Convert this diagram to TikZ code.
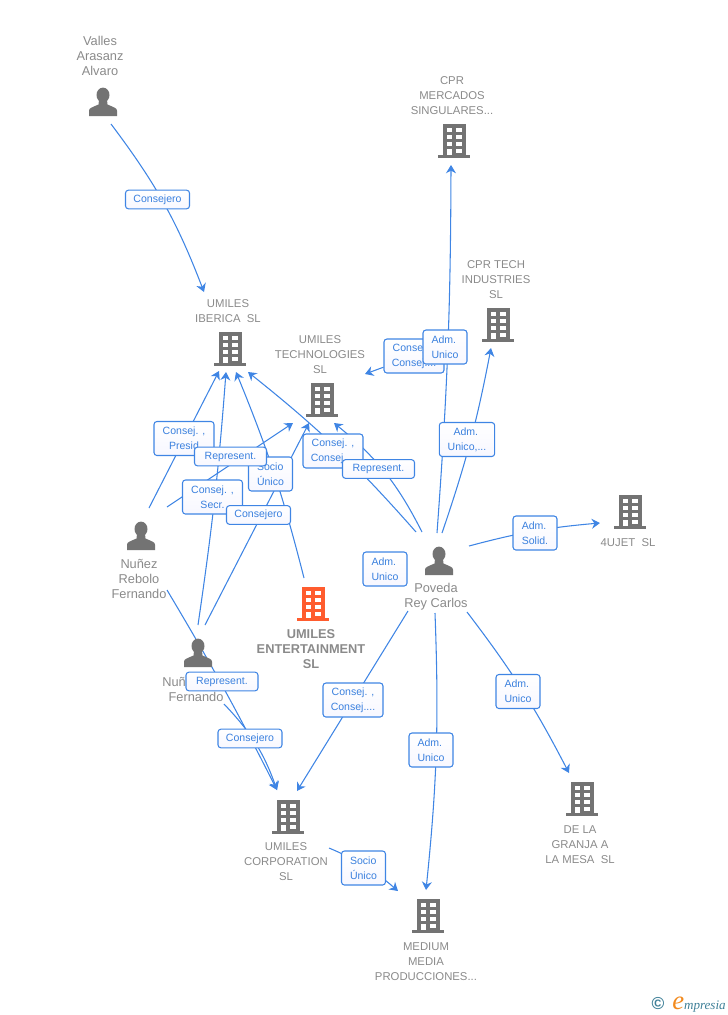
\documentclass[tikz,border=0pt]{standalone}
\usepackage{fontspec}
\setmainfont{Liberation Sans}
\newfontfamily\logofont{Liberation Serif}
\usetikzlibrary{arrows.meta,backgrounds}
\definecolor{icongray}{HTML}{737373}
\definecolor{textgray}{HTML}{8A8A8A}
\definecolor{linkblue}{HTML}{3F85E4}
\definecolor{tagblue}{HTML}{3A80DE}
\definecolor{iconorange}{HTML}{FF5C2E}
\definecolor{logoteal}{HTML}{3F8098}
\definecolor{logoorange}{HTML}{F28A1E}
\tikzset{
  link/.style={draw=linkblue,line width=.8pt,-{Stealth[length=6.2pt,width=7.5pt,inset=2pt]}},
  spot/.style={circle,inner sep=0pt,minimum size=21pt},
  lbl/.style={text=textgray,align=center,font=\fontsize{8.5}{11.25}\selectfont,inner sep=0pt,yshift=-.75pt},
  lblperson/.style={lbl,font=\fontsize{9.6}{11.25}\selectfont},
  tag/.style={draw=linkblue,line width=.8pt,rounded corners=2.2pt,top color=white,bottom color=blue!3,
    text=tagblue,align=center,font=\fontsize{7.9}{11.25}\selectfont,inner sep=0pt},
  tagline/.style={tag,minimum width=48pt,minimum height=14pt},
  tagrep/.style={tag,minimum width=54pt,minimum height=14pt},
  tagsmall/.style={tag,align=left,minimum width=33pt,minimum height=25.5pt},
  tagmid/.style={tag,minimum width=45pt,minimum height=25.5pt},
  buildingicon/.pic={
    \fill[pic actions] (-11.5,-16.7) rectangle (11.5,14);
    \fill[pic actions] (-16,14) rectangle (16,17);
    \fill[white] (-7.5,-12.7) rectangle (-2.4,-9);
    \fill[white] (2.3,-12.7) rectangle (7.6,-9);
    \fill[white] (-7.5,-5.8) rectangle (-2.4,-1.8);
    \fill[white] (2.3,-5.8) rectangle (7.6,-1.8);
    \fill[white] (-7.5,1) rectangle (-2.4,5);
    \fill[white] (2.3,1) rectangle (7.6,5);
    \fill[white] (-6.7,7.7) rectangle (-2.4,14);
    \fill[white] (2.3,7.7) rectangle (7.6,11.5);
  },
  personicon/.pic={
    \fill[pic actions] (0,-7) ellipse (6.5 and 7.4);
    \fill[pic actions] (-14,14) -- (-14,8.5) .. controls (-14,6) and (-10,5) .. (-4.5,2.5) -- (-4,-2) -- (4,-2) -- (4.5,2.5)
      .. controls (10,5) and (14,6) .. (14,8.5) -- (14,14) -- cycle;
  }
}
\begin{document}
\begin{tikzpicture}[x=.75pt,y=-.75pt]
    \useasboundingbox (0,0) rectangle (728,1015);
    % people
    \node[spot] (valles) at (103,102) {}; \pic[fill=icongray] at (valles) {personicon};
    \node[spot] (rebolo) at (141,536) {}; \pic[fill=icongray] at (rebolo) {personicon};
    \node[spot] (fernando) at (198,653) {}; \pic[fill=icongray] at (fernando) {personicon};
    \node[spot] (poveda) at (439,561) {}; \pic[fill=icongray] at (poveda) {personicon};
    % companies
    \node[spot] (mercados) at (454,141) {}; \pic[fill=icongray] at (mercados) {buildingicon};
    \node[spot] (cprtech) at (498,325) {}; \pic[fill=icongray] at (cprtech) {buildingicon};
    \node[spot] (iberica) at (230,349) {}; \pic[fill=icongray] at (iberica) {buildingicon};
    \node[spot] (technologies) at (322,400) {}; \pic[fill=icongray] at (technologies) {buildingicon};
    \node[spot] (ujet) at (630,512) {}; \pic[fill=icongray] at (ujet) {buildingicon};
    \node[spot] (entertainment) at (313,604) {}; \pic[fill=iconorange] at (entertainment) {buildingicon};
    \node[spot] (granja) at (582,799) {}; \pic[fill=icongray] at (granja) {buildingicon};
    \node[spot] (corporation) at (288,817) {}; \pic[fill=icongray] at (corporation) {buildingicon};
    \node[spot] (medium) at (428,916) {}; \pic[fill=icongray] at (medium) {buildingicon};
    % names
    \node[lblperson] (vallesName) at (100,54.5) {Valles\\Arasanz\\Alvaro};
    \node[lbl] (mercadosName) at (452,95) {CPR\\MERCADOS\\SINGULARES...};
    \node[lbl] (cprtechName) at (496,279) {CPR TECH\\INDUSTRIES\\SL};
    \node[lbl] (ibericaName) at (228,310.5) {UMILES\\IBERICA~~SL};
    \node[lbl] (technologiesName) at (320,354) {UMILES\\TECHNOLOGIES\\SL};
    \node[lbl] (ujetName) at (628,542) {4UJET~~SL};
    \node[lblperson] (povedaName) at (436,596) {Poveda\\Rey Carlos};
    \node[lblperson] (reboloName) at (139,578) {Nuñez\\Rebolo\\Fernando};
    \node[lblperson,anchor=west] (fernandoTop) at (162,681) {Nuñ};
    \node[lblperson] (fernandoName) at (196,696) {Fernando};
    \node[lbl,font=\fontsize{9.6}{11.25}\selectfont\bfseries] (entertainmentName) at (311,648) {UMILES\\ENTERTAINMENT\\SL};
    \node[lbl] (granjaName) at (580,844) {DE LA\\GRANJA A\\LA MESA~~SL};
    \node[lbl] (corporationName) at (286,861) {UMILES\\CORPORATION\\SL};
    \node[lbl] (mediumName) at (426,961) {MEDIUM\\MEDIA\\PRODUCCIONES...};
    % connector ends
    \coordinate (vallesOut) at (111,124);
    \coordinate (reboloA) at (149,508);
    \coordinate (reboloB) at (167,507);
    \coordinate (reboloC) at (167,590);
    \coordinate (fernandoA) at (198,625);
    \coordinate (fernandoB) at (205,625);
    \coordinate (fernandoC) at (224,704);
    \coordinate (entertainmentOut) at (304,578);
    \coordinate (povedaA) at (416,532);
    \coordinate (povedaB) at (422,532);
    \coordinate (povedaC) at (437,533);
    \coordinate (povedaD) at (442,533);
    \coordinate (povedaE) at (469,546);
    \coordinate (povedaF) at (467,612);
    \coordinate (povedaG) at (435,613);
    \coordinate (povedaH) at (408,611);
    \coordinate (corporationOut) at (329,848);
    \coordinate (ibericaTop) at (204,292);
    \coordinate (ibericaA) at (219,371);
    \coordinate (ibericaB) at (226,372);
    \coordinate (ibericaC) at (236,372);
    \coordinate (ibericaD) at (248,372);
    \coordinate (technologiesA) at (293,423);
    \coordinate (technologiesB) at (309,423);
    \coordinate (technologiesC) at (334,423);
    \coordinate (technologiesD) at (365,374);
    \coordinate (mercadosIn) at (451,165);
    \coordinate (cprtechIn) at (491,348);
    \coordinate (ujetIn) at (600,523);
    \coordinate (granjaIn) at (569,773);
    \coordinate (mediumA) at (426,890);
    \coordinate (mediumB) at (398,891);
    \coordinate (corporationA) at (277,790);
    \coordinate (corporationB) at (297,791);
    % labels
    \node[tagline] (vallesTag) at (157.5,199.5) {Consejero};
    \node[tagmid] (presidTag) at (184,438.5) {Consej. ,\\Presid};
    \node[tagsmall] (socioTag) at (270.5,474) {Socio\\Único};
    \node[tagmid] (secrTag) at (212.5,497) {Consej. ,\\Secr.};
    \node[tagrep] (reboloTag) at (230.5,456.5) {Represent.};
    \node[tagline] (fernandoTag) at (258.5,515) {Consejero};
    \node[tagmid] (consejTag) at (333,451) {Consej. ,\\Consej....};
    \node[tagrep] (representTag) at (378.5,469) {Represent.};
    \node[tagsmall] (looseTag) at (385,569) {Adm.\\Unico};
    \node[tagmid] (upperTag) at (414,356) {Consej. ,\\Consej....};
    \node[tagsmall] (mercadosTag) at (445,347) {Adm.\\Unico};
    \node[tagsmall,align=center,minimum width=41.5pt] (cprtechTag) at (467,439.5) {Adm.\hphantom{i}\\Unico,...};
    \node[tagsmall] (ujetTag) at (535,533) {Adm.\\Solid.};
    \node[tagrep] (lowerRepTag) at (222,681.5) {Represent.};
    \node[tagline] (lowerConsTag) at (250,738.5) {Consejero};
    \node[tagmid] (corporationTag) at (353,700) {Consej. ,\\Consej....};
    \node[tagsmall] (granjaTag) at (518,691.5) {Adm.\\Unico};
    \node[tagsmall] (mediumTag) at (431,750) {Adm.\\Unico};
    \node[tagsmall] (socioLowTag) at (363.5,868) {Socio\\Único};
    % connectors
    \begin{scope}[on background layer]
        \draw[link] (vallesOut) to[bend left=8] (ibericaTop);
        \draw[link] (reboloA) -- (ibericaA);
        \draw[link] (fernandoA) to[bend right=2] (ibericaB);
        \draw[link] (entertainmentOut) to[bend right=4] (ibericaC);
        \draw[link] (povedaA) to[bend right=5] (ibericaD);
        \draw[link] (reboloB) -- (technologiesA);
        \draw[link] (fernandoB) -- (technologiesB);
        \draw[link] (povedaB) to[bend right=12] (technologiesC);
        \draw[link] (upperTag) -- (technologiesD);
        \draw[link] (povedaC) to[bend right=2] (mercadosIn);
        \draw[link] (povedaD) to[bend right=4] (cprtechIn);
        \draw[link] (povedaE) to[bend left=5] (ujetIn);
        \draw[link] (povedaF) to[bend left=5] (granjaIn);
        \draw[link] (povedaG) to[bend left=4] (mediumA);
        \draw[link] (povedaH) -- (corporationB);
        \draw[link] (reboloC) to[bend left=2] (corporationA);
        \draw[link] (fernandoC) to[bend left=12] (corporationA);
        \draw[link] (corporationOut) to[bend left=9] (mediumB);
    \end{scope}
    % logo
    \node[text=logoteal,font=\fontsize{13}{13}\selectfont\bfseries,inner sep=0pt] (logoMark) at (658,1004) {©};
    \node[anchor=base west,text=logoteal,font=\logofont\itshape\fontsize{9.8}{12}\selectfont,inner sep=0pt] (logoName) at (672,1009)
        {\textcolor{logoorange}{\fontsize{20}{20}\selectfont e}mpresia};
\end{tikzpicture}
\end{document}
